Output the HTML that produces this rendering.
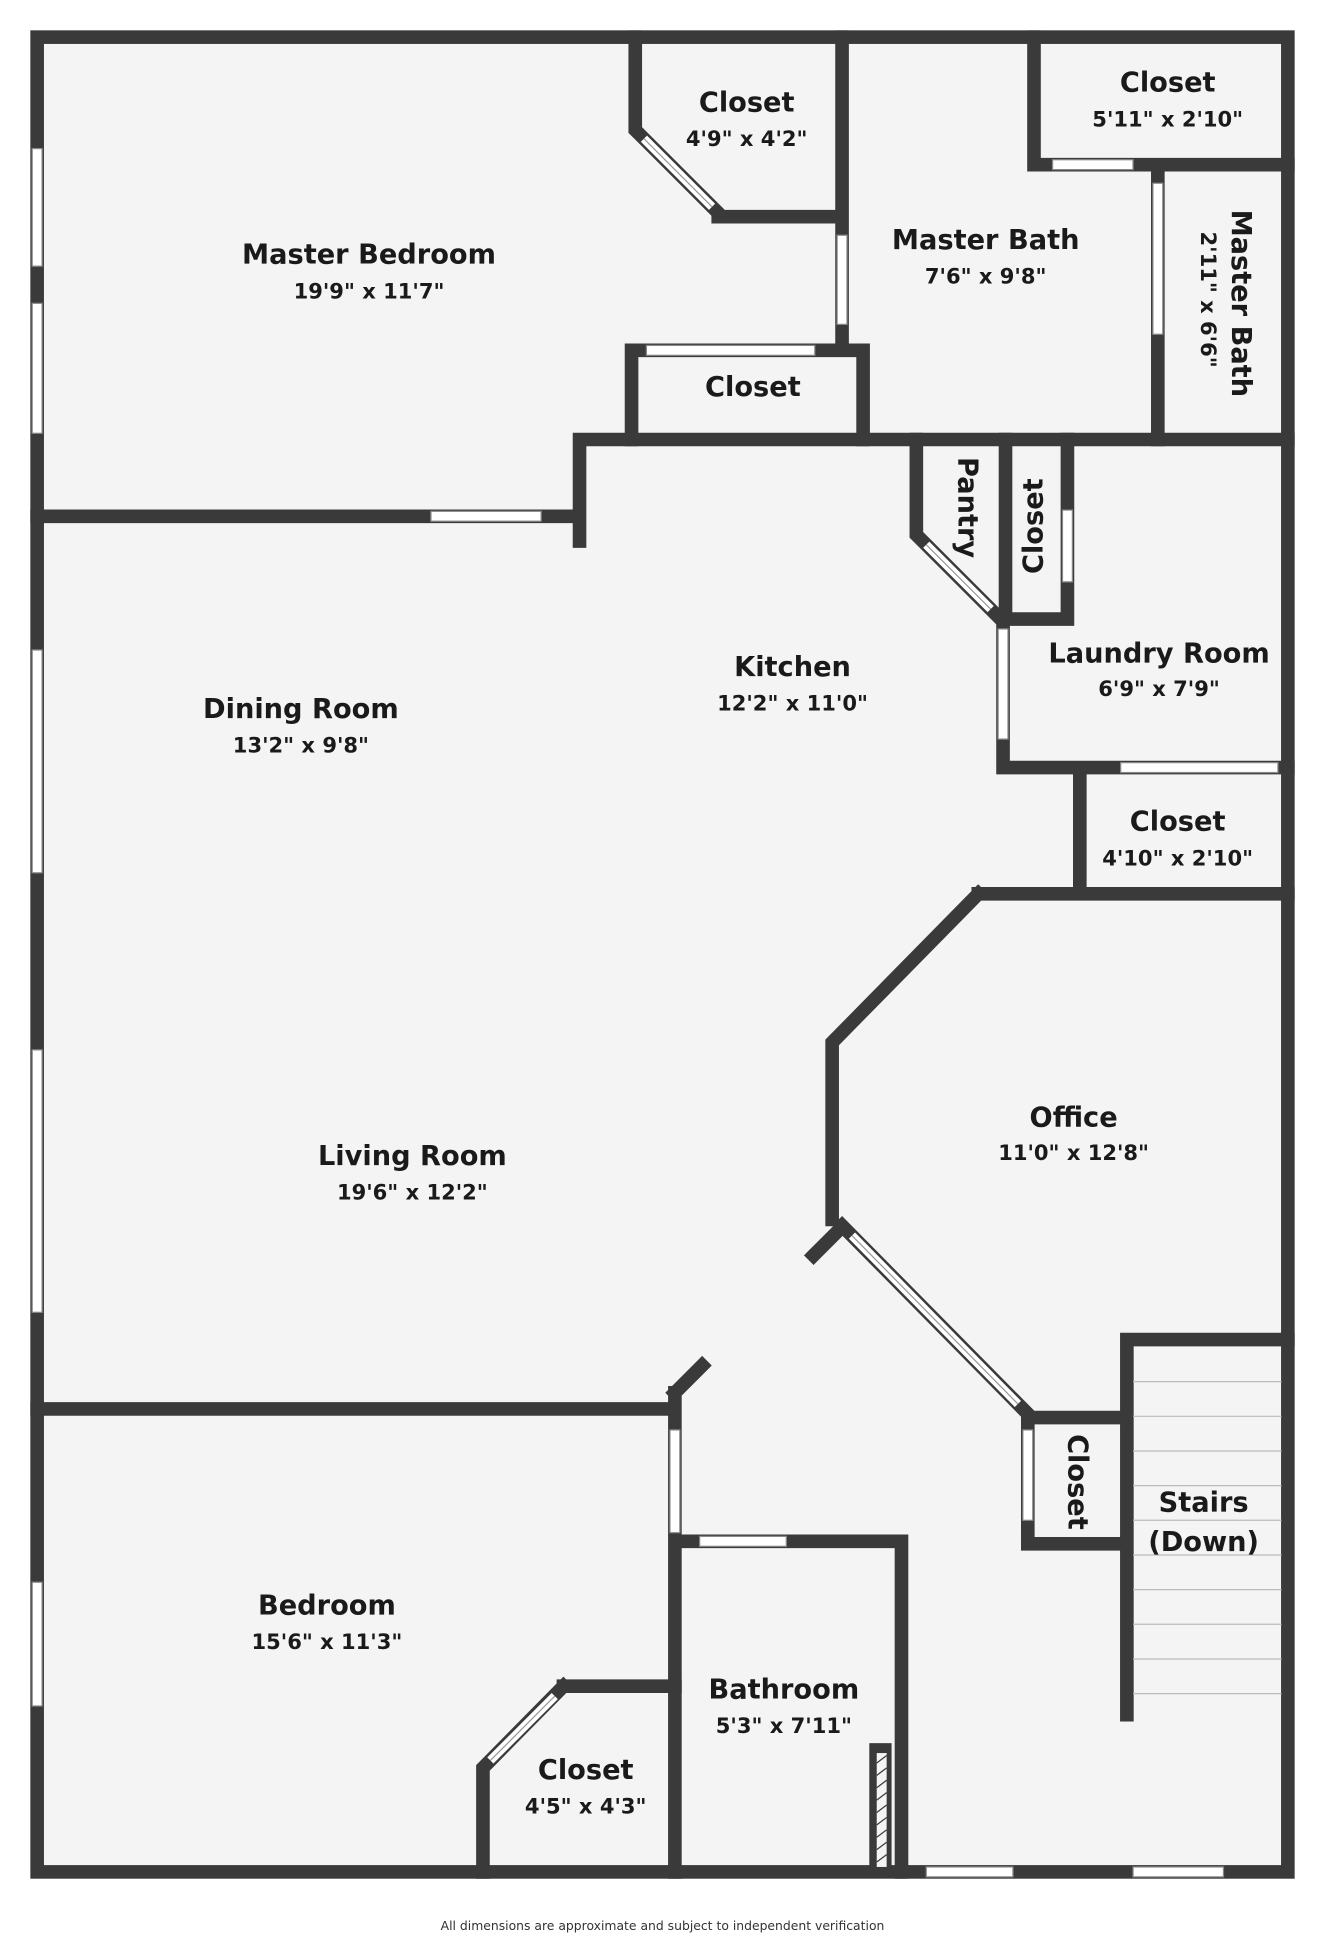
<!DOCTYPE html>
<html><head><meta charset="utf-8"><style>
html,body{margin:0;padding:0;background:#fff;width:1325px;height:1940px;overflow:hidden}
svg{display:block}
text{font-family:"DejaVu Sans","Liberation Sans",sans-serif;font-weight:bold;fill:#1a1a1a;text-anchor:middle}
.n{font-size:22px}.d{font-size:17px}
</style></head><body>
<svg width="1325" height="1940" viewBox="0 0 1070 1567" preserveAspectRatio="none">
<rect x="30" y="30" width="1010" height="1482" fill="#f4f4f4"/>
<g stroke="#3a3a3a" stroke-width="11" stroke-linecap="square" fill="none">
<rect x="30" y="30" width="1010" height="1482"/>
<path d="M30 417H468M468 355V437M468 355H1040"/>
<path d="M513 30V105L580 172M580 175H680M680 30V280"/>
<path d="M510 283H697M510 283V355M697 283V355"/>
<path d="M835 30V133H1040M935 140V355"/>
<path d="M740 355V432L808 500M812 355V500H862M862 355V500"/>
<path d="M810 500V620H1040M872 620V722M790 722H1040M790 722L672 842V985M676 995L657 1014M680 990L830 1142M830 1145H910M830 1145V1247H910M910 1082V1385M910 1082H1040"/>
<path d="M30 1138H545M545 1125L567 1103M545 1125V1512M545 1245H728M728 1245V1512"/>
<path d="M455 1362H545M455 1362L390 1428V1512"/>
</g>
<rect x="702" y="1408" width="18" height="104" fill="#3a3a3a"/>
<rect x="708" y="1416" width="8" height="92" fill="#f4f4f4"/>
<g stroke="#3a3a3a" stroke-width="1"><path d="M708 1424L716 1418M708 1434L716 1428M708 1444L716 1438M708 1454L716 1448M708 1464L716 1458M708 1474L716 1468M708 1484L716 1478M708 1494L716 1488M708 1504L716 1498"/></g>
<g fill="#fff" stroke="#888" stroke-width="1">
<rect x="26" y="120" width="8" height="95"/><rect x="26" y="245" width="8" height="105"/>
<rect x="26" y="525" width="8" height="180"/><rect x="26" y="848" width="8" height="212"/>
<rect x="26" y="1278" width="8" height="100"/>
<rect x="348" y="413" width="89" height="8"/>
<rect x="676" y="190" width="8" height="72"/>
<rect x="522" y="279" width="136" height="8"/>
<rect x="850" y="129" width="65" height="8"/>
<rect x="931" y="148" width="8" height="122"/>
<rect x="858" y="412" width="8" height="58"/>
<rect x="806" y="508" width="8" height="89"/>
<rect x="905" y="616" width="127" height="8"/>
<rect x="826" y="1155" width="8" height="73"/>
<rect x="541" y="1155" width="8" height="83"/>
<rect x="565" y="1241" width="70" height="8"/>
<rect x="748" y="1508" width="70" height="8"/>
<rect x="915" y="1508" width="73" height="8"/>
</g>
<g stroke="#fff" stroke-width="7" stroke-linecap="butt">
<path d="M520 112L575 167M748 440L800 492M688 998L822 1134M448 1370L396 1422"/>
</g>
<g stroke="#999" stroke-width="1">
<path d="M520 112L575 167M748 440L800 492M688 998L822 1134M448 1370L396 1422"/>
</g>
<g stroke="#bbb" stroke-width="1">
<path d="M915 1116H1035M915 1144H1035M915 1172H1035M915 1200H1035M915 1228H1035M915 1256H1035M915 1284H1035M915 1312H1035M915 1340H1035M915 1368H1035"/>
</g>
<text class="n" x="298" y="213">Master Bedroom</text><text class="d" x="298" y="241">19'9" x 11'7"</text>
<text class="n" x="603" y="90">Closet</text><text class="d" x="603" y="118">4'9" x 4'2"</text>
<text class="n" x="608" y="320">Closet</text>
<text class="n" x="796" y="201">Master Bath</text><text class="d" x="796" y="229">7'6" x 9'8"</text>
<text class="n" x="943" y="74">Closet</text><text class="d" x="943" y="102">5'11" x 2'10"</text>
<text class="n" transform="translate(995,245) rotate(90)">Master Bath</text>
<text class="d" transform="translate(970,242) rotate(90)">2'11" x 6'6"</text>
<text class="n" transform="translate(774,410) rotate(90)">Pantry</text>
<text class="n" transform="translate(842,425) rotate(-90)">Closet</text>
<text class="n" x="936" y="535">Laundry Room</text><text class="d" x="936" y="562">6'9" x 7'9"</text>
<text class="n" x="640" y="546">Kitchen</text><text class="d" x="640" y="574">12'2" x 11'0"</text>
<text class="n" x="243" y="580">Dining Room</text><text class="d" x="243" y="608">13'2" x 9'8"</text>
<text class="n" x="951" y="671">Closet</text><text class="d" x="951" y="699">4'10" x 2'10"</text>
<text class="n" x="867" y="910">Office</text><text class="d" x="867" y="937">11'0" x 12'8"</text>
<text class="n" x="333" y="941">Living Room</text><text class="d" x="333" y="969">19'6" x 12'2"</text>
<text class="n" transform="translate(863,1197) rotate(90)">Closet</text>
<text class="n" x="972" y="1221">Stairs</text><text class="n" x="972" y="1253">(Down)</text>
<text class="n" x="264" y="1304">Bedroom</text><text class="d" x="264" y="1332">15'6" x 11'3"</text>
<text class="n" x="633" y="1372">Bathroom</text><text class="d" x="633" y="1400">5'3" x 7'11"</text>
<text class="n" x="473" y="1437">Closet</text><text class="d" x="473" y="1465">4'5" x 4'3"</text>
<text x="535" y="1559" style="font-size:10px;font-weight:normal;fill:#333">All dimensions are approximate and subject to independent verification</text>
</svg>
</body></html>
